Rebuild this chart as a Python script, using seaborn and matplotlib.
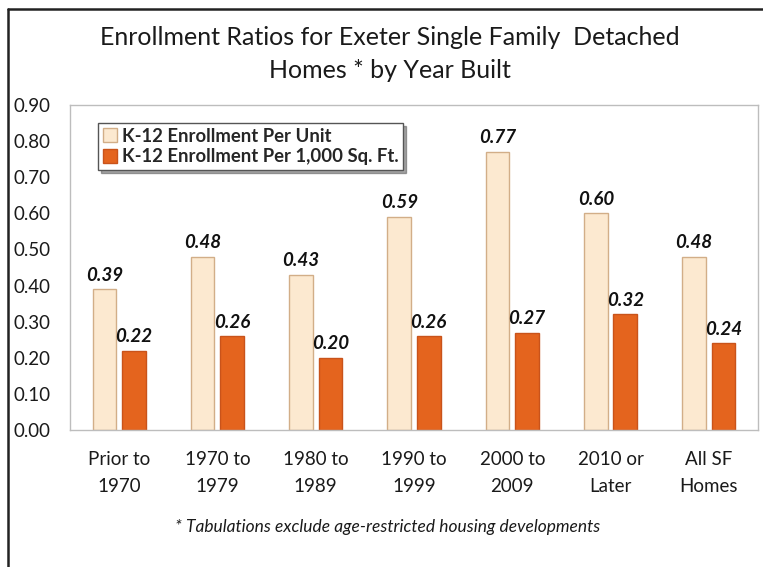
import matplotlib
matplotlib.use("Agg")
import matplotlib.pyplot as plt
from matplotlib.lines import Line2D
from matplotlib.patches import Patch
import seaborn as sns
import pandas as pd

# Year-built categories and enrollment ratios
categories = ["Prior to\n1970", "1970 to\n1979", "1980 to\n1989", "1990 to\n1999",
              "2000 to\n2009", "2010 or\nLater", "All SF\nHomes"]
per_unit = [0.39, 0.48, 0.43, 0.59, 0.77, 0.60, 0.48]
per_1000_sqft = [0.22, 0.26, 0.20, 0.26, 0.27, 0.32, 0.24]
series_names = ["K-12 Enrollment Per Unit", "K-12 Enrollment Per 1,000 Sq. Ft."]
y_ticks = [0.0, 0.1, 0.2, 0.3, 0.4, 0.5, 0.6, 0.7, 0.8, 0.9]

fill_colors = ["#FCE9D0", "#E4641E"]
edge_colors = ["#D2AE88", "#C9531A"]

sns.set_style("white")
plt.rcParams["font.family"] = ["Lato", "DejaVu Sans"]

df = pd.DataFrame({
    "category": categories * 2,
    "value": per_unit + per_1000_sqft,
    "series": [series_names[0]] * len(categories) + [series_names[1]] * len(categories),
})

fig = plt.figure(figsize=(7.63, 5.67), dpi=100)
ax = fig.add_axes([0.0917, 0.2416, 0.9017, 0.5732])

sns.barplot(data=df, x="category", y="value", hue="series", order=categories,
            hue_order=series_names, palette=fill_colors, saturation=1,
            width=0.6, gap=0.2, errorbar=None, ax=ax, legend=False, linewidth=1)

# Outline colours and value labels per series
for container, ec, vals in zip(ax.containers, edge_colors, [per_unit, per_1000_sqft]):
    for bar in container:
        bar.set_edgecolor(ec)
    ax.bar_label(container, labels=[f"{v:.2f}" for v in vals], padding=4,
                 fontsize=13.5, fontweight="bold", fontstyle="italic", color="#111111")

ax.set_ylim(0, 0.9)
ax.set_yticks(y_ticks)
ax.set_yticklabels([f"{t:.2f}" for t in y_ticks])
ax.set_xlim(-0.5, len(categories) - 0.5)
ax.set_xlabel("")
ax.set_ylabel("")
ax.tick_params(axis="both", length=0, labelsize=13.5, colors="#1a1a1a")
ax.tick_params(axis="x", pad=15)
ax.tick_params(axis="y", pad=14)
for t in ax.get_xticklabels():
    t.set_linespacing(1.7)
for sp in ax.spines.values():
    sp.set_color("#BDBDBD")
    sp.set_linewidth(1)

handles = [Patch(facecolor=fc, edgecolor=ec, label=name)
           for fc, ec, name in zip(fill_colors, edge_colors, series_names)]
leg = ax.legend(handles=handles, loc="upper left", bbox_to_anchor=(0.041, 0.945),
                borderaxespad=0, frameon=True, shadow=True, fancybox=False,
                handlelength=0.75, handleheight=0.75, handletextpad=0.3,
                borderpad=0.25, labelspacing=0.2, prop={"weight": "bold", "size": 13.3})
leg.get_frame().set_edgecolor("#555555")
leg.get_frame().set_linewidth(1)

fig.text(0.511, 0.905, "Enrollment Ratios for Exeter Single Family  Detached\nHomes * by Year Built",
         ha="center", va="center", fontsize=18, linespacing=1.5, color="#1a1a1a")
fig.text(0.508, 0.071, "* Tabulations exclude age-restricted housing developments",
         ha="center", va="center", fontsize=12.5, fontstyle="italic", color="#1a1a1a")

# Outer frame of the chart box
fig.add_artist(Line2D([0.011, 1.0], [0.985, 0.985], transform=fig.transFigure,
                      color="#222222", linewidth=1.8))
fig.add_artist(Line2D([0.011, 0.011], [0.0, 0.985], transform=fig.transFigure,
                      color="#222222", linewidth=1.8))

fig.savefig("out.png", dpi=100)
